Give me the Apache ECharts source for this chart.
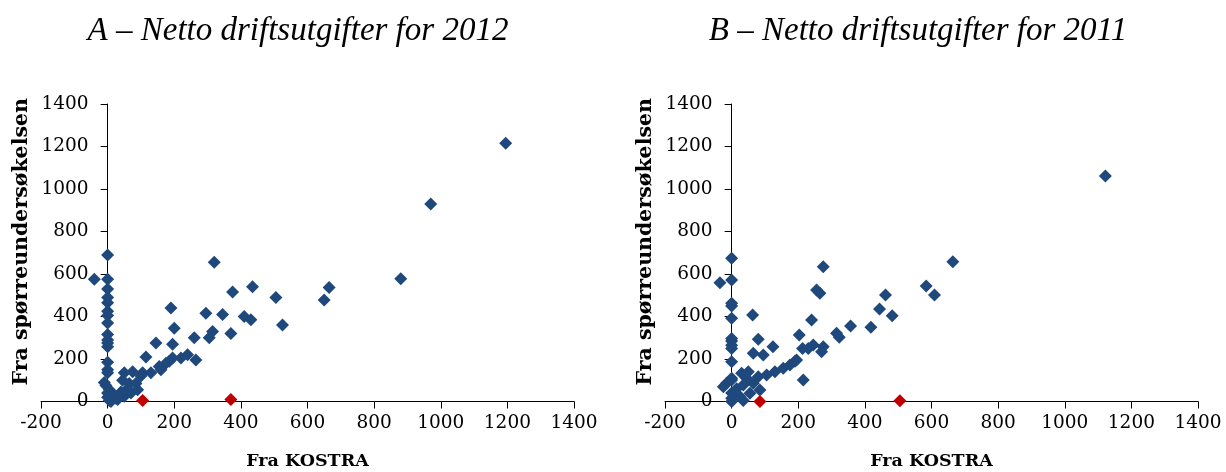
<!DOCTYPE html>
<html>
<head>
<meta charset="utf-8">
<script src="https://cdn.jsdelivr.net/npm/echarts@6/dist/echarts.min.js"></script>
<style>html,body{margin:0;padding:0;background:#fff}#c{width:1226px;height:472px}</style>
</head>
<body>
<div id="c"></div>
<script>
const titleA = 'A – Netto driftsutgifter for 2012';
const titleB = 'B – Netto driftsutgifter for 2011';
const xName = 'Fra KOSTRA';
const yName = 'Fra spørreundersøkelsen';
const xTicks = { min: -200, max: 1400, interval: 200 };
const yTicks = { min: 0, max: 1400, interval: 200 };

// Chart A (2012): [Fra KOSTRA, Fra spørreundersøkelsen]
const blueA = [
  [0,690],[-40,575],[0,575],[0,530],[0,490],[0,465],[0,425],[0,405],[0,370],[0,315],[0,290],[0,275],[0,258],
  [0,185],[0,150],[0,135],[-10,90],[-5,75],[5,55],[0,40],[0,20],[5,5],[10,0],[20,30],[30,10],[25,15],[50,25],
  [70,40],[90,55],[40,45],[60,60],[45,100],[65,85],[85,85],[50,135],[75,140],[105,135],[130,135],[100,120],
  [115,210],[155,165],[160,150],[175,180],[185,190],[145,275],[195,270],[190,440],[200,345],[195,205],[220,205],
  [240,220],[260,300],[265,195],[295,415],[305,300],[315,330],[320,655],[345,410],[370,320],[375,515],[410,400],
  [430,385],[435,540],[505,490],[525,360],[650,478],[665,537],[880,578],[970,930],[1195,1215]
];
const redA = [[105,5],[370,10]];

// Chart B (2011)
const blueB = [
  [0,674],[-35,559],[0,572],[0,462],[0,450],[0,392],[0,297],[0,285],[0,265],[0,250],[0,187],[0,109],[0,101],
  [-25,70],[-15,86],[0,40],[0,15],[0,0],[10,30],[15,60],[35,5],[25,23],[55,39],[85,54],[35,78],[65,86],[45,110],
  [30,133],[50,140],[80,117],[105,125],[130,140],[155,156],[175,172],[195,195],[190,190],[63,407],[80,293],
  [65,227],[95,219],[124,258],[203,313],[215,101],[213,250],[230,250],[240,383],[245,266],[255,525],[265,509],
  [275,634],[275,258],[270,234],[315,321],[323,302],[357,355],[418,349],[444,435],[462,501],[482,404],[584,544],
  [609,501],[664,658],[1122,1061]
];
const redB = [[85,0],[505,4]];

const BLUE = '#1F497D', RED = '#C00000';
const FONT = 'DejaVu Serif';
const GRID_W = 533;
// y axis sits at x = 0: one x interval (200 of 1600) inside the grid's left edge
const Y_OFFSET = -GRID_W * (0 - xTicks.min) / (xTicks.max - xTicks.min);

function xAx(gi) {
  return {
    type: 'value', gridIndex: gi, min: xTicks.min, max: xTicks.max, interval: xTicks.interval,
    name: xName, nameLocation: 'middle', nameGap: 51, nameMoveOverlap: false,
    nameTextStyle: { fontFamily: FONT, fontWeight: 'bold', fontSize: 17.5, color: '#000' },
    axisLine: { onZero: false, lineStyle: { color: '#000', width: 1 } },
    axisTick: { show: true, length: 7, lineStyle: { color: '#000' } },
    axisLabel: { fontFamily: FONT, fontSize: 18.5, color: '#000', margin: 12, formatter: v => String(v) },
    splitLine: { show: false }
  };
}
function yAx(gi) {
  return {
    type: 'value', gridIndex: gi, min: yTicks.min, max: yTicks.max, interval: yTicks.interval,
    position: 'left', offset: Y_OFFSET,
    name: yName, nameLocation: 'middle', nameGap: 75, nameMoveOverlap: false,
    nameTextStyle: { fontFamily: FONT, fontWeight: 'bold', fontSize: 20.5, color: '#000', padding: [0, 0, 0, 22] },
    axisLine: { onZero: false, lineStyle: { color: '#000', width: 1 } },
    axisTick: { show: true, length: 7, lineStyle: { color: '#000' } },
    axisLabel: { fontFamily: FONT, fontSize: 18.5, color: '#000', margin: 19, formatter: v => String(v) },
    splitLine: { show: false }
  };
}
function sc(data, color, i) {
  return { type: 'scatter', xAxisIndex: i, yAxisIndex: i, data: data, symbol: 'diamond',
    symbolSize: [13, 13], itemStyle: { color: color, opacity: 1 }, silent: true, animation: false };
}

const chart = echarts.init(document.getElementById('c'), null, { renderer: 'canvas' });
chart.setOption({
  backgroundColor: '#fff',
  animation: false,
  grid: [
    { left: 41, top: 104, width: GRID_W, height: 297.5, containLabel: false, outerBoundsMode: 'none' },
    { left: 665, top: 104, width: GRID_W, height: 297.5, containLabel: false, outerBoundsMode: 'none' }
  ],
  xAxis: [xAx(0), xAx(1)],
  yAxis: [yAx(0), yAx(1)],
  series: [sc(blueA, BLUE, 0), sc(redA, RED, 0), sc(blueB, BLUE, 1), sc(redB, RED, 1)],
  graphic: [
    { type: 'text', x: 298, y: 31, style: { text: titleA, font: 'italic 33px "Liberation Serif"', fill: '#000', textAlign: 'center', textVerticalAlign: 'middle' } },
    { type: 'text', x: 918, y: 31, style: { text: titleB, font: 'italic 33px "Liberation Serif"', fill: '#000', textAlign: 'center', textVerticalAlign: 'middle' } }
  ]
});
</script>
</body>
</html>
